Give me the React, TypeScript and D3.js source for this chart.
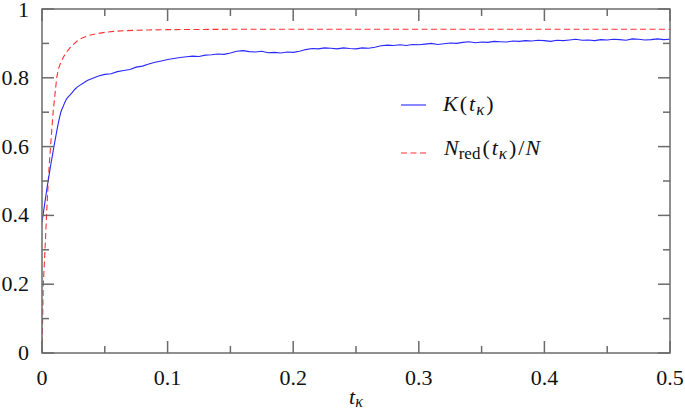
import React from "react";
import * as d3 from "d3";

const blueT = [0, 0.001, 0.002, 0.003, 0.004, 0.005, 0.006, 0.007, 0.008, 0.009, 0.01, 0.011, 0.012, 0.013, 0.014, 0.015, 0.016, 0.017, 0.018, 0.019, 0.02, 0.022, 0.024, 0.026, 0.028, 0.03, 0.033, 0.036, 0.04, 0.045,
  0.05, 0.055, 0.06, 0.065, 0.07, 0.075, 0.08, 0.085, 0.09, 0.095, 0.1, 0.105, 0.11, 0.115, 0.12, 0.125, 0.13, 0.135, 0.14, 0.145, 0.15, 0.155, 0.16, 0.165, 0.17, 0.175, 0.18, 0.185, 0.19, 0.195, 0.2,
  0.205, 0.21, 0.215, 0.22, 0.225, 0.23, 0.235, 0.24, 0.245, 0.25, 0.255, 0.26, 0.265, 0.27, 0.275, 0.28, 0.285, 0.29, 0.295, 0.3, 0.305, 0.31, 0.315, 0.32, 0.325, 0.33, 0.335, 0.34, 0.345, 0.35,
  0.355, 0.36, 0.365, 0.37, 0.375, 0.38, 0.385, 0.39, 0.395, 0.4, 0.405, 0.41, 0.415, 0.42, 0.425, 0.43, 0.435, 0.44, 0.445, 0.45, 0.455, 0.46, 0.465, 0.47, 0.475, 0.48, 0.485, 0.49, 0.495, 0.5];
const blueV = [0.38, 0.405, 0.43, 0.455, 0.48, 0.503, 0.525, 0.548, 0.568, 0.59, 0.61, 0.63, 0.65, 0.668, 0.685, 0.7, 0.71, 0.718, 0.727, 0.735, 0.741, 0.749, 0.757, 0.766, 0.773, 0.778, 0.785, 0.792, 0.798, 0.805,
  0.81, 0.812, 0.818, 0.821, 0.824, 0.831, 0.834, 0.84, 0.845, 0.849, 0.853, 0.856, 0.859, 0.861, 0.863, 0.862, 0.866, 0.867, 0.869, 0.868, 0.872, 0.877, 0.879, 0.876, 0.875, 0.877, 0.873, 0.874, 0.872, 0.875, 0.874,
  0.877, 0.882, 0.885, 0.884, 0.887, 0.886, 0.884, 0.887, 0.885, 0.884, 0.887, 0.886, 0.889, 0.893, 0.895, 0.894, 0.896, 0.894, 0.897, 0.896, 0.898, 0.9, 0.897, 0.899, 0.901, 0.9, 0.903, 0.905, 0.902, 0.904,
  0.903, 0.906, 0.905, 0.904, 0.907, 0.906, 0.908, 0.907, 0.909, 0.908, 0.906, 0.909, 0.908, 0.91, 0.912, 0.909, 0.91, 0.908, 0.911, 0.91, 0.912, 0.911, 0.909, 0.913, 0.912, 0.91, 0.911, 0.913, 0.911, 0.912];

const redT = [0, 0.0005, 0.001, 0.002, 0.003, 0.004, 0.005, 0.006, 0.007, 0.008, 0.009, 0.01, 0.0117, 0.013, 0.015, 0.017, 0.019, 0.022, 0.0244, 0.028, 0.032, 0.037, 0.043, 0.05, 0.057, 0.065, 0.075, 0.085, 0.1, 0.15, 0.5];
const redV = [0, 0.1, 0.2, 0.27, 0.35, 0.43, 0.5, 0.56, 0.61, 0.66, 0.706, 0.74, 0.8, 0.825, 0.845, 0.86, 0.872, 0.886, 0.895, 0.907, 0.916, 0.923, 0.928, 0.932, 0.935, 0.937, 0.938, 0.939, 0.94, 0.941, 0.941];

const xMajor = [0, 0.1, 0.2, 0.3, 0.4, 0.5];
const xMinor = [0.05, 0.15, 0.25, 0.35, 0.45];
const yMajor = [0, 0.2, 0.4, 0.6, 0.8, 1];
const yMinor = [0.1, 0.3, 0.5, 0.7, 0.9];

const TS: React.CSSProperties = { fontFamily: "Liberation Serif", fontSize: 22, fill: "#111" };

export default function App() {
  const L = 42, R = 670, T = 9, B = 353;
  const x = d3.scaleLinear().domain([0, 0.5]).range([L, R]);
  const y = d3.scaleLinear().domain([0, 1]).range([B, T]);
  const line = d3.line<[number, number]>().x(d => x(d[0])).y(d => y(d[1]));
  const blue = line(blueT.map((t, i) => [t, blueV[i]]) as [number, number][]) || "";
  const red = line(redT.map((t, i) => [t, redV[i]]) as [number, number][]) || "";
  const axisColor = "#6b6b6b";
  const major = 12, minor = 7;
  const fmt = (v: number) => (v === 0 ? "0" : v === 1 ? "1" : String(+v.toFixed(1)));
  return (
    <div style={{ position: "absolute", left: 0, top: 0 }}>
      <svg width={685} height={412} style={{ display: "block", background: "#fff" }}>
        <defs>
          <clipPath id="plot"><rect x={L} y={T} width={R - L} height={B - T} /></clipPath>
        </defs>
        <g clipPath="url(#plot)">
          <path d={red} fill="none" stroke="#ff3030" strokeWidth={1.1} strokeDasharray="6,3.5" />
          <path d={blue} fill="none" stroke="#2828ff" strokeWidth={1.1} />
        </g>
        <g stroke={axisColor} strokeWidth={1.5}>
          {xMajor.map(v => (
            <g key={"xm" + v}>
              <line x1={x(v)} x2={x(v)} y1={B} y2={B - major} />
              <line x1={x(v)} x2={x(v)} y1={T} y2={T + major} />
            </g>
          ))}
          {xMinor.map(v => (
            <g key={"xn" + v}>
              <line x1={x(v)} x2={x(v)} y1={B} y2={B - minor} />
              <line x1={x(v)} x2={x(v)} y1={T} y2={T + minor} />
            </g>
          ))}
          {yMajor.map(v => (
            <g key={"ym" + v}>
              <line x1={L} x2={L + major} y1={y(v)} y2={y(v)} />
              <line x1={R} x2={R - major} y1={y(v)} y2={y(v)} />
            </g>
          ))}
          {yMinor.map(v => (
            <g key={"yn" + v}>
              <line x1={L} x2={L + minor} y1={y(v)} y2={y(v)} />
              <line x1={R} x2={R - minor} y1={y(v)} y2={y(v)} />
            </g>
          ))}
          <rect x={L} y={T} width={R - L} height={B - T} fill="none" />
        </g>
        {yMajor.map(v => (
          <text key={"yl" + v} style={TS} x={L - 13} y={Math.max(y(v) + 7, 17)} textAnchor="end">{fmt(v)}</text>
        ))}
        {xMajor.map(v => (
          <text key={"xl" + v} style={TS} x={x(v)} y={B + 32} textAnchor="middle">{fmt(v)}</text>
        ))}
        <text style={TS} x={349} y={404}>
          <tspan fontStyle="italic">t</tspan>
          <tspan fontStyle="italic" fontSize={16} dy={3}>κ</tspan>
        </text>
        <line x1={401} x2={426} y1={105} y2={105} stroke="#2828ff" strokeWidth={1.1} />
        <text style={TS} x={443} y={111}>
          <tspan fontStyle="italic">K</tspan>
          <tspan dx={2}>(</tspan>
          <tspan fontStyle="italic" dx={2}>t</tspan>
          <tspan fontStyle="italic" fontSize={17} dy={4} dx={1}>κ</tspan>
          <tspan dy={-4} dx={2}>)</tspan>
        </text>
        <line x1={401} x2={426} y1={153} y2={153} stroke="#ff3030" strokeWidth={1.1} strokeDasharray="6,3.5" />
        <text style={TS} x={444} y={155}>
          <tspan fontStyle="italic">N</tspan>
          <tspan fontSize={17} dy={4}>red</tspan>
          <tspan dy={-4} dx={2}>(</tspan>
          <tspan fontStyle="italic" dx={2}>t</tspan>
          <tspan fontStyle="italic" fontSize={17} dy={4} dx={1}>κ</tspan>
          <tspan dy={-4} dx={2}>)</tspan>
          <tspan dx={2}>/</tspan>
          <tspan fontStyle="italic" dx={1}>N</tspan>
        </text>
      </svg>
    </div>
  );
}
